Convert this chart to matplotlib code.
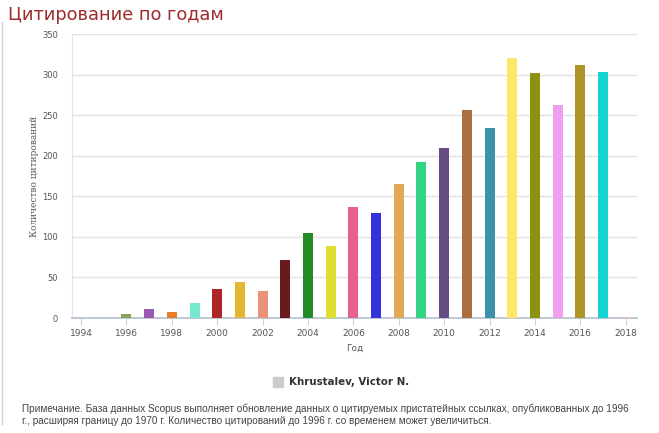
import numpy as np
import matplotlib.pyplot as plt
from matplotlib.patches import Rectangle

years = list(range(1994, 2019))
citations = [0, 0, 5, 11, 7, 18, 36, 44, 33, 72, 105, 89, 137, 130, 165,
             192, 209, 256, 234, 321, 302, 263, 312, 303, 1]
colors = ['#cccccc', '#cccccc', '#86a55a', '#9b5bb5', '#e87d2a', '#75e8d0',
          '#b02428', '#e2b830', '#e99278', '#6a1a1c', '#238b26', '#dfdf33',
          '#e66192', '#3433db', '#e1a955', '#33d483', '#654c82', '#a96f42',
          '#3d91aa', '#fee668', '#8b9212', '#f09fee', '#ae942a', '#14d3d3',
          '#f4b3b3']
yticks = [0, 50, 100, 150, 200, 250, 300, 350]
xticks = list(range(1994, 2019, 2))

fig = plt.figure(figsize=(6.59, 4.33), dpi=100)
ax = fig.add_axes([72/659, 1 - 318/433, 565/659, 284/433])

ax.bar(years, citations, width=0.44, color=colors, zorder=3)
ax.set_xlim(1993.6, 2018.5)
ax.set_ylim(0, 350)
ax.set_yticks(yticks)
ax.set_xticks(xticks)
ax.grid(axis='y', color='#e2e2e2', linewidth=1, zorder=0)

for s in ['top', 'right']:
    ax.spines[s].set_visible(False)
ax.spines['left'].set_color('#dce4ee')
ax.spines['bottom'].set_color('#b8c4d0')
ax.spines['bottom'].set_linewidth(1.3)
ax.tick_params(axis='y', length=0, labelsize=6, labelcolor='#555555', pad=10)
ax.tick_params(axis='x', length=5, color='#c8d2dc', labelsize=6.5,
               labelcolor='#555555', pad=3)

ax.set_xlabel('Год', fontsize=6.5, color='#555555', labelpad=4)
ax.set_ylabel('Количество цитирований', fontsize=6.5, color='#555555',
              family='DejaVu Serif', labelpad=2)

fig.text(8/659, 1 - 15/433, 'Цитирование по годам', fontsize=12.8,
         color='#9e2a2a', va='center', ha='left')

# legend
fig.patches.append(Rectangle((273/659, 1 - 387/433), 10/659, 10/433,
                             transform=fig.transFigure, color='#cccccc'))
fig.text(289/659, 1 - 382/433, 'Khrustalev, Victor N.', fontsize=7.4,
         fontweight='bold', color='#333333', va='center', ha='left')

note = ('Примечание. База данных Scopus выполняет обновление данных о цитируемых '
        'пристатейных ссылках, опубликованных до 1996\n'
        'г., расширяя границу до 1970 г. Количество цитирований до 1996 г. '
        'со временем может увеличиться.')
fig.text(22/659, 1 - 415/433, note, fontsize=7.2, color='#444444',
         va='center', ha='left', linespacing=1.2, family='Liberation Sans')

fig.add_artist(plt.Line2D([2/659, 2/659], [0.02, 0.95], color='#d0d0d0',
                          linewidth=1, transform=fig.transFigure))

fig.savefig('out.png', dpi=100)
